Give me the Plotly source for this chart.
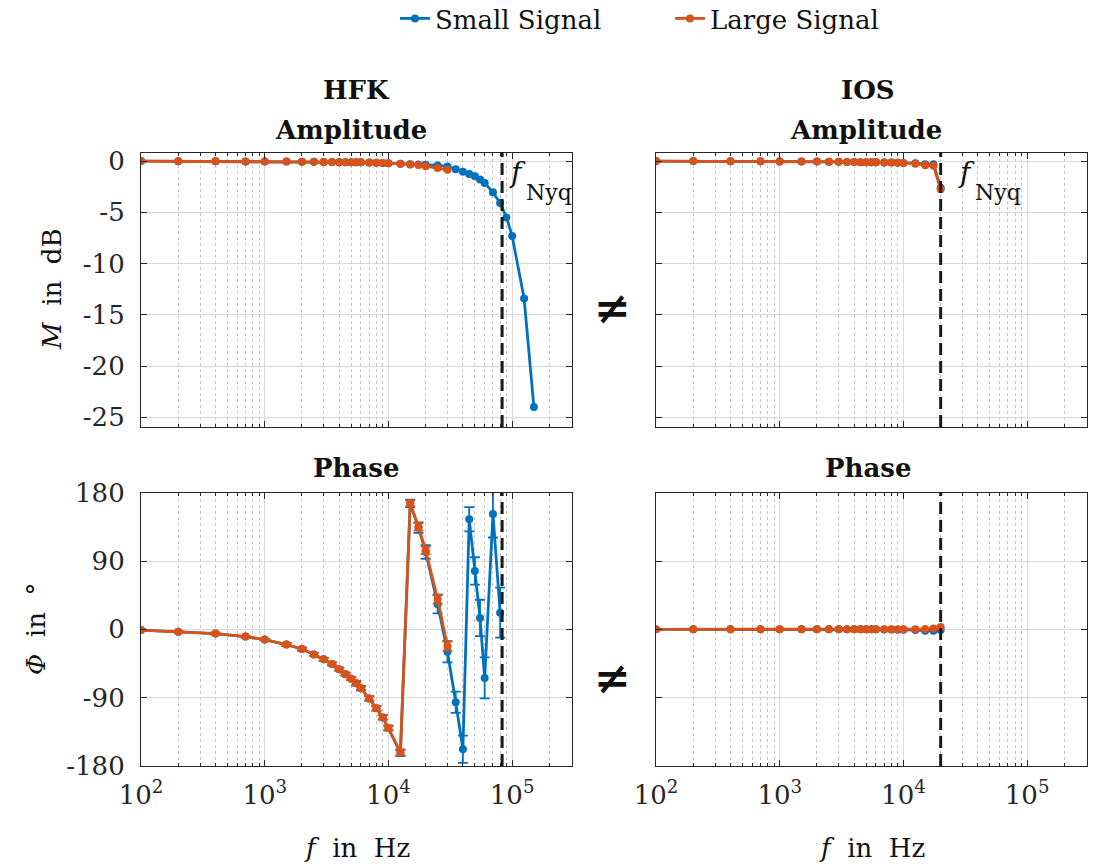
import plotly.graph_objects as go

# ---------------- data ----------------
FREQ_HFK = [100, 200, 400, 700, 1000, 1500, 2000, 2500, 3000, 3500, 4000, 4500, 5000, 5500, 6000,
            7000, 8000, 9000, 10000, 12500, 15000, 17500, 20000, 25000, 30000, 35000, 40000, 45000,
            50000, 55000, 60000, 70000, 80000, 90000, 100000, 125000, 150000]

HFK_AMP_SMALL = [0.0, -0.01, -0.02, -0.03, -0.04, -0.05, -0.06, -0.07, -0.08, -0.09, -0.1, -0.1, -0.11,
                 -0.12, -0.12, -0.14, -0.16, -0.18, -0.2, -0.25, -0.3, -0.32, -0.35, -0.42, -0.52, -0.8,
                 -1.05, -1.25, -1.48, -1.8, -2.13, -3.05, -4.08, -5.5, -7.3, -13.4, -24.0]
HFK_AMP_LARGE = [0.0, -0.01, -0.02, -0.03, -0.04, -0.05, -0.06, -0.07, -0.08, -0.09, -0.1, -0.1, -0.11,
                 -0.12, -0.12, -0.14, -0.16, -0.18, -0.2, -0.27, -0.34, -0.38, -0.5, -0.67, -0.85]

HFK_PH_SMALL = [-1, -3, -5.5, -9.5, -13.5, -20, -26, -33, -39.5, -45.5, -52.5, -59, -65, -71, -77.5,
                -91, -104, -116, -130, -163, 166, 134, 102, 33, -29.5, -96, -158, 145, 77, 15, -64, 152, 22]
HFK_PH_SMALL_ERR = [1, 1, 1, 1, 1, 2, 2, 2, 2, 2, 2, 2, 2, 3, 3, 3, 3, 3, 3, 4, 5, 7, 9, 12, 14, 14, 18,
                    16, 18, 24, 27, 31, 33]
HFK_PH_LARGE = [-1, -3, -5.5, -9.5, -13.5, -20, -26, -33, -39.5, -45.5, -52.5, -59, -65, -71, -77.5,
                -91, -104, -116, -130, -162, 166, 135, 104, 40, -22]
HFK_PH_LARGE_ERR = [1, 1, 1, 1, 1, 2, 2, 2, 2, 2, 2, 2, 2, 2, 2, 3, 3, 3, 3, 4, 4, 5, 5, 6, 6]

FREQ_IOS = [100, 200, 400, 700, 1000, 1500, 2000, 2500, 3000, 3500, 4000, 4500, 5000, 5500, 6000,
            7000, 8000, 9000, 10000, 12500, 15000, 17500, 20000]
IOS_AMP_SMALL = [0.0, 0.0, -0.01, -0.02, -0.03, -0.04, -0.05, -0.06, -0.07, -0.08, -0.09, -0.1, -0.1,
                 -0.11, -0.12, -0.13, -0.14, -0.16, -0.18, -0.2, -0.3, -0.3, -2.6]
IOS_AMP_LARGE = [0.0, 0.0, -0.01, -0.02, -0.03, -0.04, -0.05, -0.06, -0.07, -0.08, -0.09, -0.1, -0.1,
                 -0.11, -0.12, -0.13, -0.14, -0.16, -0.18, -0.25, -0.4, -0.45, -2.75]
IOS_PH_SMALL = [0, 0, 0, 0, 0, 0, 0, 0, 0, 0, 0, 0, 0, 0, 0, -0.2, -0.3, -0.4, -0.5, -1, -2, -2, -1]
IOS_PH_LARGE = [0, 0, 0, 0, 0, 0, 0, 0, 0, 0, 0, 0, 0, 0, 0, 0, 0, 0, 0, 0, 0.3, 1.0, 3.0]

F_NYQ_HFK = 83000
F_NYQ_IOS = 20000

AMP_TICKS = [0, -5, -10, -15, -20, -25]
AMP_TICKTEXT = ["0", "-5", "-10", "-15", "-20", "-25"]
PH_TICKS = [180, 90, 0, -90, -180]
PH_TICKTEXT = ["180", "90", "0", "-90", "-180"]
X_TICKS = [100, 1000, 10000, 100000]
X_TICKTEXT = ["10<sup>2</sup>", "10<sup>3</sup>", "10<sup>4</sup>", "10<sup>5</sup>"]

BLUE = "#0072BD"
ORANGE = "#D95319"
DARK = "#262626"
FONT = "DejaVu Serif"
FS = 26

W, H = 1099, 865


def px(x):
    return x / W


def py(y):
    return 1 - y / H


fig = go.Figure()

line_w = 2.8
msize = 8


def add(x, y, color, name, xa, ya, err=None, show=False):
    kw = {}
    if err is not None:
        kw["error_y"] = dict(type="data", array=err, visible=True, color=color, thickness=1.8, width=5)
    fig.add_trace(go.Scatter(
        x=x[:len(y)], y=y, mode="lines+markers", name=name, legendgroup=name, showlegend=show,
        line=dict(color=color, width=line_w), marker=dict(color=color, size=msize, symbol="circle"),
        xaxis=xa, yaxis=ya, **kw))


add(FREQ_HFK, HFK_AMP_SMALL, BLUE, "Small Signal", "x", "y", show=True)
add(FREQ_HFK, HFK_AMP_LARGE, ORANGE, "Large Signal", "x", "y", show=True)
add(FREQ_IOS, IOS_AMP_SMALL, BLUE, "Small Signal", "x2", "y2")
add(FREQ_IOS, IOS_AMP_LARGE, ORANGE, "Large Signal", "x2", "y2")
add(FREQ_HFK, HFK_PH_SMALL, BLUE, "Small Signal", "x3", "y3", err=HFK_PH_SMALL_ERR)
add(FREQ_HFK, HFK_PH_LARGE, ORANGE, "Large Signal", "x3", "y3", err=HFK_PH_LARGE_ERR)
add(FREQ_IOS, IOS_PH_SMALL, BLUE, "Small Signal", "x4", "y4")
add(FREQ_IOS, IOS_PH_LARGE, ORANGE, "Large Signal", "x4", "y4")

minor_vals = [m * 10 ** e for e in range(2, 6) for m in range(2, 10)]

XR = [2, 5.484]
LEFT_DOM = [px(141), px(572)]
RIGHT_DOM = [px(656), px(1087)]
TOP_DOM = [py(427), py(152.7)]
BOT_DOM = [py(766), py(492.7)]


def xaxis(domain, anchor, labels):
    return dict(type="log", range=XR, domain=domain, anchor=anchor, automargin=False,
                tickmode="array", tickvals=X_TICKS, ticktext=X_TICKTEXT,
                showticklabels=labels, ticks="inside", ticklen=6, tickcolor=DARK, tickwidth=1,
                showline=True, linecolor=DARK, linewidth=1.2, mirror="allticks",
                showgrid=True, gridcolor="#d8d8d8", gridwidth=1.2,
                minor=dict(tickmode="array", tickvals=minor_vals, ticks="inside", ticklen=3,
                           tickcolor=DARK, showgrid=True, gridcolor="#c4c4c4", griddash="dot",
                           gridwidth=1),
                tickfont=dict(family=FONT, size=FS, color=DARK), zeroline=False,
                ticklabelstandoff=6)


def yaxis(domain, anchor, rng, ticks, ticktext, labels):
    return dict(range=rng, domain=domain, anchor=anchor, automargin=False,
                tickmode="array", tickvals=ticks, ticktext=ticktext,
                showticklabels=labels, ticks="inside", ticklen=6, tickcolor=DARK,
                showline=True, linecolor=DARK, linewidth=1.2, mirror="allticks",
                showgrid=True, gridcolor="#d8d8d8", gridwidth=1.2, zeroline=False,
                tickfont=dict(family=FONT, size=FS, color=DARK), ticklabelstandoff=10)


AMP_R = [-25.95, 0.82]
PH_R = [-180, 180]

fig.update_layout(
    width=W, height=H, margin=dict(l=0, r=0, t=0, b=0, autoexpand=False),
    paper_bgcolor="white", plot_bgcolor="white",
    font=dict(family=FONT, size=FS, color="#111111"),
    xaxis=xaxis(LEFT_DOM, "y", False),
    xaxis2=xaxis(RIGHT_DOM, "y2", False),
    xaxis3=xaxis(LEFT_DOM, "y3", True),
    xaxis4=xaxis(RIGHT_DOM, "y4", True),
    yaxis=yaxis(TOP_DOM, "x", AMP_R, AMP_TICKS, AMP_TICKTEXT, True),
    yaxis2=yaxis(TOP_DOM, "x2", AMP_R, AMP_TICKS, AMP_TICKTEXT, False),
    yaxis3=yaxis(BOT_DOM, "x3", PH_R, PH_TICKS, PH_TICKTEXT, True),
    yaxis4=yaxis(BOT_DOM, "x4", PH_R, PH_TICKS, PH_TICKTEXT, False),
    legend=dict(orientation="h", x=px(395), xanchor="left", y=py(-5), yanchor="top",
                font=dict(family=FONT, size=FS, color="#111111"), bgcolor="rgba(0,0,0,0)",
                entrywidth=230, entrywidthmode="pixels", tracegroupgap=0),
)

# Nyquist lines
for xa, ya, fn in [("x", "y", F_NYQ_HFK), ("x2", "y2", F_NYQ_IOS),
                   ("x3", "y3", F_NYQ_HFK), ("x4", "y4", F_NYQ_IOS)]:
    fig.add_shape(type="line", xref=xa, yref=ya + " domain", x0=fn, x1=fn, y0=0, y1=1,
                  line=dict(color="#1a1a1a", width=3, dash="12px,6px"))

ann = []


def text(x, y, s, size=FS, bold=False, **kw):
    if bold:
        s = "<b>" + s + "</b>"
    d = dict(x=px(x), y=py(y), xref="paper", yref="paper", text=s, showarrow=False,
             xanchor="center", yanchor="middle",
             font=dict(family=FONT, size=size, color="#111111"))
    d.update(kw)
    ann.append(d)


text(356, 90, "HFK", bold=True)
text(351, 130, "Amplitude", bold=True)
text(356, 468, "Phase", bold=True)
text(868, 90, "IOS", bold=True)
text(866, 130, "Amplitude", bold=True)
text(868, 468, "Phase", bold=True)

text(612, 307, "≠", size=44, bold=True)
text(612, 677, "≠", size=44, bold=True)

text(517, 172, "<i>f</i>", size=28)
text(524, 193, "Nyq", size=22, xanchor="left")
text(966, 172, "<i>f</i>", size=28)
text(973, 193, "Nyq", size=22, xanchor="left")

text(52, 289, "<i>M</i>\u00a0 in\u00a0 dB", textangle=-90)
text(36, 629, "<i>Φ</i>\u00a0 in\u00a0 °", textangle=-90)
text(357, 848, "<i>f</i>\u00a0 in\u00a0 Hz")
text(872, 848, "<i>f</i>\u00a0 in\u00a0 Hz")

fig.update_layout(annotations=ann)

fig.write_html("out.html")
